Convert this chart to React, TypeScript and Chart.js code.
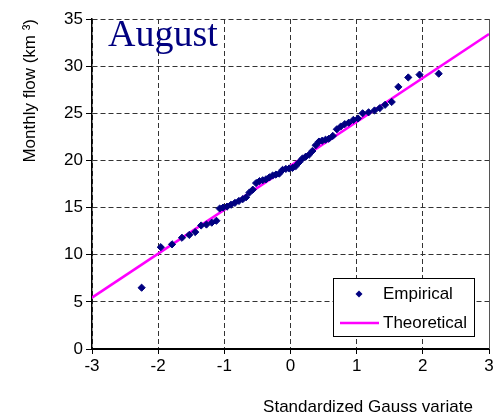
import React, { useEffect, useRef } from "react";
import { Chart, registerables } from "chart.js";

Chart.register(...registerables);

const empiricalX = [
  -2.25, -1.96, -1.79, -1.64, -1.53, -1.44, -1.35, -1.27, -1.19, -1.12,
  -1.07, -1.02, -0.96, -0.9, -0.84, -0.78, -0.72, -0.67, -0.62, -0.57,
  -0.52, -0.47, -0.42, -0.37, -0.32, -0.27, -0.22, -0.17, -0.12, -0.07,
  -0.02, 0.03, 0.08, 0.13, 0.18, 0.23, 0.28, 0.33, 0.38, 0.43,
  0.48, 0.53, 0.58, 0.64, 0.7, 0.76, 0.82, 0.88, 0.95, 1.02,
  1.09, 1.18, 1.27, 1.35, 1.43, 1.53, 1.63, 1.78, 1.95, 2.24,
];
const empiricalY = [
  6.5, 10.8, 11.1, 11.8, 12.1, 12.4, 13.1, 13.2, 13.4, 13.6,
  14.9, 15.0, 15.1, 15.3, 15.5, 15.7, 15.9, 16.1, 16.6, 16.9,
  17.6, 17.8, 17.9, 18.0, 18.2, 18.4, 18.5, 18.6, 19.0, 19.1,
  19.15, 19.2, 19.4, 19.8, 20.2, 20.4, 20.6, 21.0, 21.6, 22.0,
  22.1, 22.2, 22.3, 22.6, 23.3, 23.6, 23.85, 24.0, 24.3, 24.45,
  25.0, 25.1, 25.3, 25.55, 25.9, 26.2, 27.8, 28.8, 29.1, 29.2,
];
const theoreticalX = [-3, 3];
const theoreticalY = [5.45, 33.4];

const xTicks = [-3, -2, -1, 0, 1, 2, 3];
const yTicks = [0, 5, 10, 15, 20, 25, 30, 35];

const chartTitle = "August";
const xTitle = "Standardized Gauss variate";
const yTitle = "Monthly flow (km ³)";
const legendLabels = ["Empirical", "Theoretical"];

const NAVY = "#000080";
const MAGENTA = "#FF00FF";
const SANS = "'Liberation Sans', Arial, sans-serif";

const overlayPlugin = {
  id: "overlay",
  afterDraw(chart: any) {
    const { ctx, chartArea } = chart;
    ctx.save();
    // right border
    ctx.strokeStyle = "#555";
    ctx.lineWidth = 1;
    ctx.setLineDash([]);
    ctx.beginPath();
    ctx.moveTo(chartArea.right + 0.5, chartArea.top);
    ctx.lineTo(chartArea.right + 0.5, chartArea.bottom);
    ctx.stroke();

    // title
    ctx.fillStyle = NAVY;
    ctx.font = "38px 'Liberation Serif', 'Times New Roman', serif";
    ctx.textAlign = "left";
    ctx.textBaseline = "alphabetic";
    ctx.fillText(chartTitle, chartArea.left + 16, chartArea.top + 27);

    // x title
    ctx.fillStyle = "#000";
    ctx.font = "17px " + SANS;
    ctx.textAlign = "center";
    ctx.textBaseline = "middle";
    ctx.fillText(xTitle, 368, 407);

    // legend
    const lx = 333, ly = 278, lw = 141, lh = 58;
    ctx.fillStyle = "#fff";
    ctx.fillRect(lx, ly, lw, lh);
    ctx.strokeStyle = "#000";
    ctx.lineWidth = 1;
    ctx.strokeRect(lx + 0.5, ly + 0.5, lw, lh);
    // diamond
    const dx = 359, dy = 294, r = 3.5;
    ctx.fillStyle = NAVY;
    ctx.beginPath();
    ctx.moveTo(dx, dy - r);
    ctx.lineTo(dx + r, dy);
    ctx.lineTo(dx, dy + r);
    ctx.lineTo(dx - r, dy);
    ctx.closePath();
    ctx.fill();
    // line
    ctx.strokeStyle = MAGENTA;
    ctx.lineWidth = 2.5;
    ctx.beginPath();
    ctx.moveTo(340, 323);
    ctx.lineTo(379, 323);
    ctx.stroke();
    ctx.fillStyle = "#000";
    ctx.textAlign = "left";
    ctx.textBaseline = "middle";
    ctx.fillText(legendLabels[0], 383, 294);
    ctx.fillText(legendLabels[1], 383, 323);
    ctx.restore();
  },
};

export default function App() {
  const ref = useRef<HTMLCanvasElement>(null);
  useEffect(() => {
    document.body.style.margin = "0";
    const canvas = ref.current!;
    const chart = new Chart(canvas, {
      type: "scatter",
      data: {
        datasets: [
          {
            label: legendLabels[1],
            type: "line",
            data: theoreticalX.map((x, i) => ({ x, y: theoreticalY[i] })),
            borderColor: MAGENTA,
            backgroundColor: MAGENTA,
            borderWidth: 2.5,
            pointRadius: 0,
            showLine: true,
            fill: false,
            order: 2,
          },
          {
            label: legendLabels[0],
            data: empiricalX.map((x, i) => ({ x, y: empiricalY[i] })),
            pointStyle: "rectRot",
            pointRadius: 3.6,
            backgroundColor: NAVY,
            borderColor: NAVY,
            borderWidth: 1,
            order: 1,
          },
        ],
      },
      options: {
        responsive: false,
        animation: false,
        layout: { padding: { top: 19, right: 11, left: 0, bottom: 0 } },
        plugins: {
          legend: { display: false },
          tooltip: { enabled: false },
        },
        scales: {
          x: {
            type: "linear",
            min: xTicks[0],
            max: xTicks[xTicks.length - 1],
            afterBuildTicks: (s: any) => {
              s.ticks = xTicks.map((v) => ({ value: v }));
            },
            afterFit: (s: any) => {
              s.height = 68;
            },
            ticks: {
              color: "#000",
              font: { family: SANS, size: 17 },
              padding: 2,
            },
            grid: {
              color: "#333",
              lineWidth: 1,
              tickColor: "#000",
              tickLength: 5,
              tickBorderDash: [],
            } as any,
            border: { display: true, color: "#000", width: 2, dash: [5, 3] },
          },
          y: {
            type: "linear",
            min: yTicks[0],
            max: yTicks[yTicks.length - 1],
            afterBuildTicks: (s: any) => {
              s.ticks = yTicks.map((v) => ({ value: v }));
            },
            afterFit: (s: any) => {
              s.width = 92;
            },
            ticks: {
              color: "#000",
              font: { family: SANS, size: 17 },
              padding: 3,
            },
            grid: {
              color: "#333",
              lineWidth: 1,
              tickColor: "#000",
              tickLength: 6,
              tickBorderDash: [],
            } as any,
            border: { display: true, color: "#000", width: 1.5, dash: [5, 3] },
            title: {
              display: true,
              text: yTitle,
              align: "end",
              color: "#000",
              font: { family: SANS, size: 17 },
              padding: { top: 20, bottom: 0 },
            },
          },
        },
      },
      plugins: [overlayPlugin],
    } as any);
    return () => chart.destroy();
  }, []);
  return (
    <div style={{ width: 500, height: 417 }}>
      <canvas ref={ref} width={500} height={417} />
    </div>
  );
}
